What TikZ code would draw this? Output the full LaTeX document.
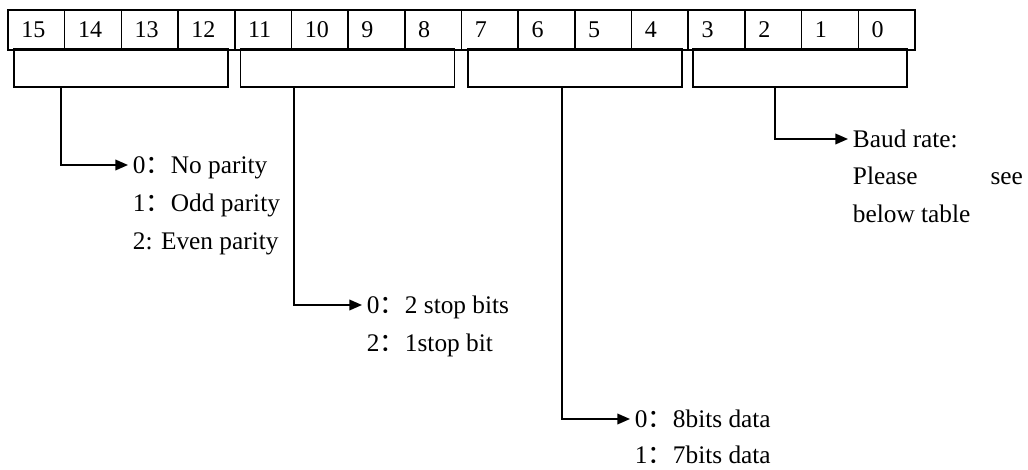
\documentclass[tikz,border=0pt]{standalone}
\usepackage{fontspec}
\usepackage{tikz}
\setmainfont{Liberation Serif}
\newfontfamily\cjkfont{Noto Sans CJK SC}
\usetikzlibrary{calc,arrows.meta,positioning}
\newcommand{\fwcolon}{{\cjkfont ：}}

\begin{document}
\begin{tikzpicture}[x=0.75pt,y=-0.75pt,
  bitcell/.style={draw, line width=1.2pt, minimum width=42.52pt, minimum height=30pt,
    inner xsep=10pt, text width=22.5pt, align=left, font=\fontsize{18pt}{20pt}\selectfont},
  grpbox/.style={draw, line width=1.2pt, minimum width=160.5pt, minimum height=28.5pt, inner sep=0pt},
  conn/.style={line width=1.2pt, -{Triangle[length=9.5pt,width=8pt]}},
  opt/.style={anchor=west, inner xsep=3.5pt, inner ysep=0pt, text height=15pt, text depth=2.3pt,
    font=\fontsize{19pt}{23pt}\selectfont}]
\useasboundingbox (0,0) rectangle (1028,470);

% register bits 15..0
\foreach \i in {0,...,15}{
  \pgfmathtruncatemacro{\b}{15-\i}
  \node[bitcell] (bit\b) at ({8+56.6875*(\i+0.5)},30) {\b};
}

% bit groups
\foreach \g/\cx in {1/121,2/347.5,3/575,4/800}
  \node[grpbox] (grp\g) at (\cx,68) {};

% parity
\node[opt] (par0) at (128,165) {0\fwcolon No parity};
\node[opt] (par1) at (128,203) {1\fwcolon Odd parity};
\node[opt] (par2) at (128,241) {2: Even parity};
% stop bits
\node[opt] (stp0) at (362,305) {0\fwcolon 2 stop bits};
\node[opt] (stp1) at (362,343) {2\fwcolon 1stop bit};
% data bits
\node[opt] (dat0) at (630,419) {0\fwcolon 8bits data};
\node[opt] (dat1) at (630,455) {1\fwcolon 7bits data};
% baud rate
\node[opt] (baud0) at (848,139) {Baud rate:};
\node[opt] (baud1) at (848,176) {\makebox[127.5pt][s]{Please see}};
\node[opt] (baud2) at (848,214) {below table};

\draw[conn] ($(grp1.south)+(-60,0)$) |- (par0.west);
\draw[conn] ($(grp2.south)+(-53.5,0)$) |- (stp0.west);
\draw[conn] ($(grp3.south)+(-13,0)$) |- (dat0.west);
\draw[conn] ($(grp4.south)+(-25,0)$) |- (baud0.west);
\end{tikzpicture}
\end{document}
